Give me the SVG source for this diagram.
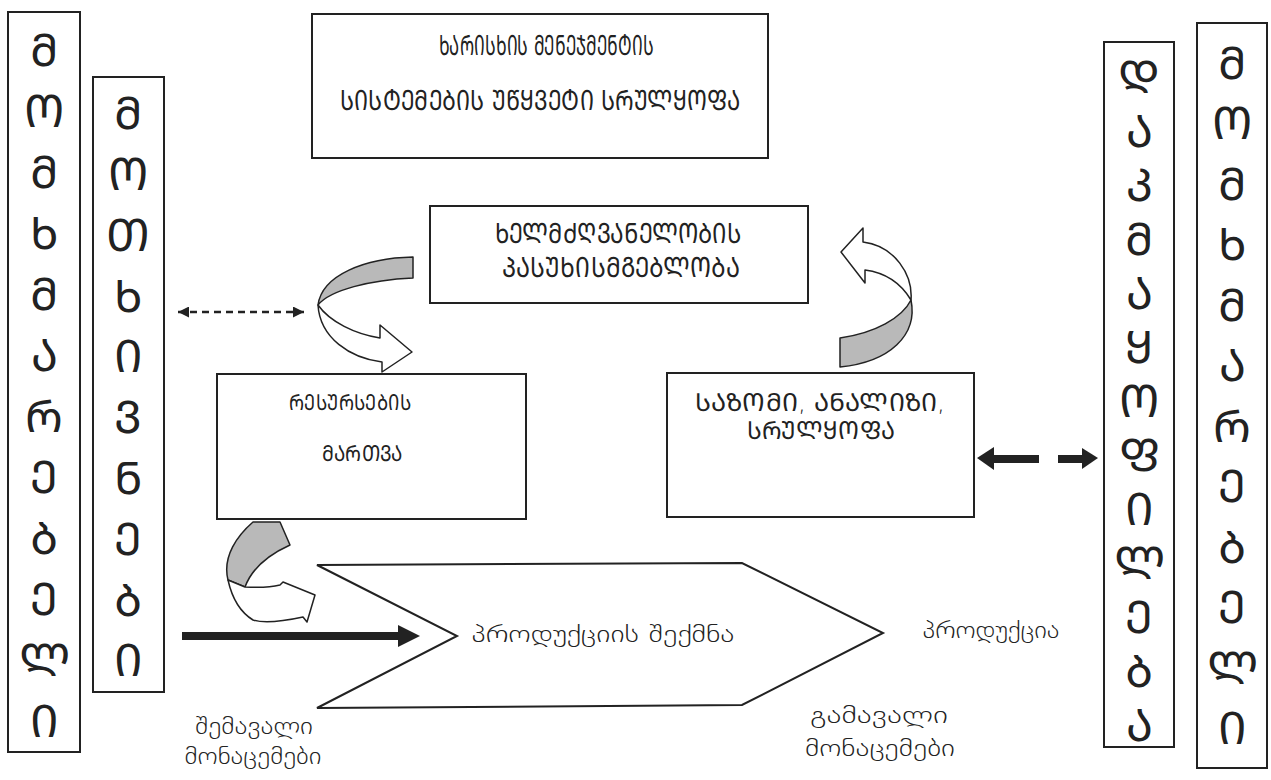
<svg xmlns="http://www.w3.org/2000/svg" width="1271" height="780" viewBox="0 0 1271 780">
<style>
.box{fill:#fff;stroke:#222;stroke-width:2}
.col{font-family:"DejaVu Sans",sans-serif;font-size:45px;font-weight:300;fill:#222;text-anchor:middle}
.lbl{font-family:"DejaVu Sans",sans-serif;font-size:28px;font-weight:300;fill:#222;text-anchor:middle}
.txt{font-family:"DejaVu Sans",sans-serif;font-size:24px;font-weight:300;fill:#222;text-anchor:middle}
.gray{fill:#b9b9b9;stroke:#222;stroke-width:1.5;stroke-linejoin:round}
.white{fill:#fff;stroke:#222;stroke-width:1.5;stroke-linejoin:round}
.solid{fill:#222}
</style>
<defs>
<marker id="tri" viewBox="0 0 10 10" refX="10" refY="5" markerWidth="13" markerHeight="11" markerUnits="userSpaceOnUse" orient="auto-start-reverse">
<path d="M0,0 L10,5 L0,10 Z" fill="#222"/>
</marker>
</defs>
<rect width="1271" height="780" fill="#fff"/>

<g id="customer-left">
<rect class="box" x="8" y="12" width="72" height="740"/>
<text class="col" x="44" y="66">Მ</text>
<text class="col" x="44" y="127">Ო</text>
<text class="col" x="44" y="188">Მ</text>
<text class="col" x="44" y="249">Ხ</text>
<text class="col" x="44" y="310">Მ</text>
<text class="col" x="44" y="371">Ა</text>
<text class="col" x="44" y="432">Რ</text>
<text class="col" x="44" y="493">Ე</text>
<text class="col" x="44" y="554">Ბ</text>
<text class="col" x="44" y="615">Ე</text>
<text class="col" x="44" y="676">Ლ</text>
<text class="col" x="44" y="737">Ი</text>
</g>

<g id="requirements">
<rect class="box" x="93" y="77" width="71" height="615"/>
<text class="col" x="128" y="129">Მ</text>
<text class="col" x="128" y="190">Ო</text>
<text class="col" x="128" y="251">Თ</text>
<text class="col" x="128" y="312">Ხ</text>
<text class="col" x="128" y="372">Ი</text>
<text class="col" x="128" y="433">Ვ</text>
<text class="col" x="128" y="494">Ნ</text>
<text class="col" x="128" y="555">Ე</text>
<text class="col" x="128" y="616">Ბ</text>
<text class="col" x="128" y="676">Ი</text>
</g>

<g id="satisfaction">
<rect class="box" x="1104" y="42" width="70" height="705"/>
<text class="col" x="1139" y="93">Დ</text>
<text class="col" x="1139" y="147">Ა</text>
<text class="col" x="1139" y="201">Კ</text>
<text class="col" x="1139" y="255">Მ</text>
<text class="col" x="1139" y="309">Ა</text>
<text class="col" x="1139" y="363">Ყ</text>
<text class="col" x="1139" y="417">Ო</text>
<text class="col" x="1139" y="471">Ფ</text>
<text class="col" x="1139" y="525">Ი</text>
<text class="col" x="1139" y="579">Ლ</text>
<text class="col" x="1139" y="633">Ე</text>
<text class="col" x="1139" y="687">Ბ</text>
<text class="col" x="1139" y="741">Ა</text>
</g>

<g id="customer-right">
<rect class="box" x="1197" y="23" width="70" height="745"/>
<text class="col" x="1232" y="79">Მ</text>
<text class="col" x="1232" y="139">Ო</text>
<text class="col" x="1232" y="200">Მ</text>
<text class="col" x="1232" y="260">Ხ</text>
<text class="col" x="1232" y="321">Მ</text>
<text class="col" x="1232" y="381">Ა</text>
<text class="col" x="1232" y="442">Რ</text>
<text class="col" x="1232" y="502">Ე</text>
<text class="col" x="1232" y="563">Ბ</text>
<text class="col" x="1232" y="623">Ე</text>
<text class="col" x="1232" y="684">Ლ</text>
<text class="col" x="1232" y="744">Ი</text>
</g>

<g id="improvement">
<rect class="box" x="312" y="14" width="456" height="144"/>
<text class="lbl" x="546" y="55" textLength="215" lengthAdjust="spacingAndGlyphs">ᲮᲐᲠᲘᲡᲮᲘᲡ ᲛᲔᲜᲔᲯᲛᲔᲜᲢᲘᲡ</text>
<text class="lbl" x="540" y="110" textLength="400" lengthAdjust="spacingAndGlyphs">ᲡᲘᲡᲢᲔᲛᲔᲑᲘᲡ ᲣᲬᲧᲕᲔᲢᲘ ᲡᲠᲣᲚᲧᲝᲤᲐ</text>
</g>

<g id="management">
<rect class="box" x="430" y="206" width="378" height="97"/>
<text class="lbl" x="618" y="243" textLength="247" lengthAdjust="spacingAndGlyphs">ᲮᲔᲚᲛᲫᲦᲕᲐᲜᲔᲚᲝᲑᲘᲡ</text>
<text class="lbl" x="621" y="277" textLength="238" lengthAdjust="spacingAndGlyphs">ᲞᲐᲡᲣᲮᲘᲡᲛᲒᲔᲑᲚᲝᲑᲐ</text>
</g>

<g id="resources">
<rect class="box" x="217" y="374" width="309" height="145"/>
<text class="lbl" x="350" y="410" style="font-size:22px" textLength="122" lengthAdjust="spacingAndGlyphs">ᲠᲔᲡᲣᲠᲡᲔᲑᲘᲡ</text>
<text class="lbl" x="362" y="461" style="font-size:22px" textLength="80" lengthAdjust="spacingAndGlyphs">ᲛᲐᲠᲗᲕᲐ</text>
</g>

<g id="measurement">
<rect class="box" x="667" y="373" width="307" height="144"/>
<text class="lbl" x="820" y="411" style="font-size:25px" textLength="250" lengthAdjust="spacingAndGlyphs">ᲡᲐᲖᲝᲛᲘ, ᲐᲜᲐᲚᲘᲖᲘ,</text>
<text class="lbl" x="821" y="439" style="font-size:25px" textLength="148" lengthAdjust="spacingAndGlyphs">ᲡᲠᲣᲚᲧᲝᲤᲐ</text>
</g>

<g id="realization">
<polygon class="box" points="317,565 742,563 883,633 742,705 317,708 457,636"/>
<text class="txt" x="603" y="642" textLength="263" lengthAdjust="spacingAndGlyphs">პროდუქციის შექმნა</text>
</g>

<g id="labels">
<text class="txt" x="991" y="638" textLength="137" lengthAdjust="spacingAndGlyphs">პროდუქცია</text>
<text class="txt" x="254" y="734" textLength="118" lengthAdjust="spacingAndGlyphs">შემავალი</text>
<text class="txt" x="253" y="764" textLength="137" lengthAdjust="spacingAndGlyphs">მონაცემები</text>
<text class="txt" x="879" y="723" textLength="138" lengthAdjust="spacingAndGlyphs">გამავალი</text>
<text class="txt" x="880" y="756" textLength="150" lengthAdjust="spacingAndGlyphs">მონაცემები</text>
</g>

<g id="connectors">
<line x1="178" y1="312" x2="304" y2="312" stroke="#222" stroke-width="2.5" stroke-dasharray="7,5" marker-start="url(#tri)" marker-end="url(#tri)"/>
<rect class="solid" x="182" y="632" width="217" height="8"/>
<polygon class="solid" points="398,625 420,636 398,647"/>
<polygon class="solid" points="977,458 994,447 994,470"/>
<rect class="solid" x="993" y="455" width="46" height="8"/>
<rect class="solid" x="1058" y="455" width="25" height="8"/>
<polygon class="solid" points="1082,448 1098,458 1082,469"/>
<path class="gray" d="M413,257 C365,258 322,275 318,305 C330,290 370,280 413,278 Z"/>
<path class="white" d="M318,305 C330,322 355,334 380,338 L380,325 L412,352 L382,372 L382,362 C350,358 320,338 318,305 Z"/>
<path class="white" d="M863,242 L863,228 L841,252 L865,283 L865,270 C888,273 902,285 911,300 C913,275 895,246 863,242 Z"/>
<path class="gray" d="M911,300 C902,318 875,333 840,338 L840,367 C890,362 918,335 911,300 Z"/>
<path class="gray" d="M253,522 C238,535 222,556 228,580 L245,587 C252,568 268,555 290,545 L280,522 Z"/>
<path class="white" d="M228,580 L245,587 C262,588 272,587 280,585 L283,582 L315,595 L307,622 L303,617 C280,622 262,623 253,620 C240,612 232,598 228,580 Z"/>
</g>
</svg>
